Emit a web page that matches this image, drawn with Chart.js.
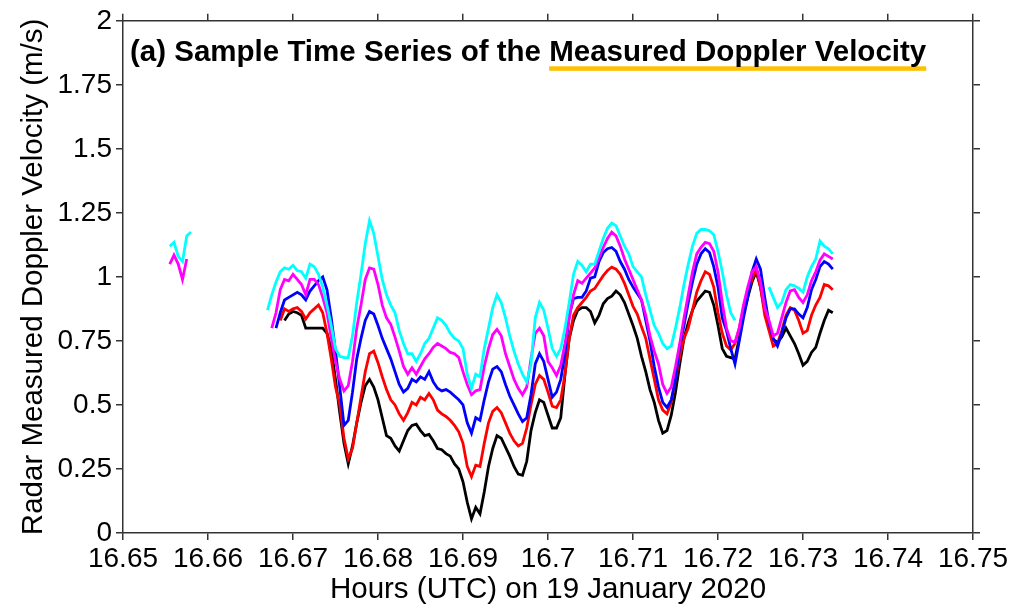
<!DOCTYPE html>
<html>
<head>
<meta charset="utf-8">
<script src="https://cdn.jsdelivr.net/npm/chart.js@4.4.0/dist/chart.umd.min.js"></script>
<style>
html, body { margin: 0; padding: 0; background: #fff; }
#wrap { width: 1015px; height: 608px; }
</style>
</head>
<body>
<div id="wrap"><canvas id="myChart" width="1015" height="608"></canvas></div>
<script>
// sample times (hours UTC) of the main record
const timeVals = [
    16.667, 16.6675, 16.668, 16.6685, 16.669, 16.6695, 16.67, 16.6705, 16.671, 16.6715,
    16.672, 16.6725, 16.673, 16.6735, 16.674, 16.6745, 16.675, 16.6755, 16.676, 16.6765,
    16.677, 16.6775, 16.678, 16.6785, 16.679, 16.6795, 16.68, 16.6805, 16.681, 16.6815,
    16.682, 16.6825, 16.683, 16.6835, 16.684, 16.6845, 16.685, 16.6855, 16.686, 16.6865,
    16.687, 16.6875, 16.688, 16.6885, 16.689, 16.6895, 16.69, 16.6905, 16.691, 16.6915,
    16.692, 16.6925, 16.693, 16.6935, 16.694, 16.6945, 16.695, 16.6955, 16.696, 16.6965,
    16.697, 16.6975, 16.698, 16.6985, 16.699, 16.6995, 16.7, 16.7005, 16.701, 16.7015,
    16.702, 16.7025, 16.703, 16.7035, 16.704, 16.7045, 16.705, 16.7055, 16.706, 16.7065,
    16.707, 16.7075, 16.708, 16.7085, 16.709, 16.7095, 16.71, 16.7105, 16.711, 16.7115,
    16.712, 16.7125, 16.713, 16.7135, 16.714, 16.7145, 16.715, 16.7155, 16.716, 16.7165,
    16.717, 16.7175, 16.718, 16.7185, 16.719, 16.7195, 16.72, 16.7205, 16.721, 16.7215,
    16.722, 16.7225, 16.723, 16.7235, 16.724, 16.7245, 16.725, 16.7255, 16.726, 16.7265,
    16.727, 16.7275, 16.728, 16.7285, 16.729, 16.7295, 16.73, 16.7305, 16.731, 16.7315,
    16.732, 16.7325, 16.733, 16.7335
];

const cyanVals = [
    0.87, 0.93, 0.98, 1.02, 1.035, 1.03, 1.045, 1.025, 1.02, 0.995,
    1.05, 1.04, 1.01, 0.96, 0.89, 0.81, 0.72, 0.69, 0.685, 0.685,
    0.77, 0.90, 1.01, 1.13, 1.22, 1.17, 1.08, 0.99, 0.93, 0.89,
    0.86, 0.79, 0.74, 0.70, 0.70, 0.67, 0.70, 0.74, 0.76, 0.80,
    0.84, 0.83, 0.81, 0.78, 0.76, 0.75, 0.72, 0.62, 0.565, 0.62,
    0.61, 0.72, 0.80, 0.88, 0.93, 0.90, 0.84, 0.77, 0.71, 0.66,
    0.62, 0.59, 0.66, 0.84, 0.90, 0.87, 0.80, 0.72, 0.69, 0.72,
    0.80, 0.90, 1.01, 1.06, 1.045, 1.02, 1.05, 1.05, 1.10, 1.15,
    1.19, 1.21, 1.20, 1.16, 1.12, 1.09, 1.04, 1.02, 1.00, 0.93,
    0.87, 0.81, 0.78, 0.74, 0.72, 0.73, 0.80, 0.88, 0.97, 1.05,
    1.12, 1.17, 1.185, 1.185, 1.18, 1.165, 1.10, 1.02, 0.93, 0.86,
    0.83, null, null, null, null, null, null, null, 0.96, 0.92,
    0.88, 0.90, 0.95, 0.97, 0.965, 0.955, 0.94, 1.00, 1.04, 1.07,
    1.14, 1.12, 1.11, 1.09
];

const magentaVals = [
    null, 0.80, 0.86, 0.95, 0.99, 0.985, 1.01, 0.99, 0.97, 0.93,
    0.99, 0.99, 0.97, 0.92, 0.86, 0.76, 0.67, 0.60, 0.555, 0.575,
    0.67, 0.80, 0.89, 0.99, 1.035, 1.03, 0.97, 0.89, 0.84, 0.815,
    0.765, 0.71, 0.65, 0.62, 0.645, 0.62, 0.65, 0.68, 0.70, 0.725,
    0.74, 0.73, 0.72, 0.705, 0.70, 0.685, 0.63, 0.58, 0.54, 0.555,
    0.56, 0.65, 0.72, 0.775, 0.795, 0.77, 0.70, 0.65, 0.60, 0.565,
    0.54, 0.57, 0.68, 0.78, 0.80, 0.77, 0.67, 0.645, 0.615, 0.655,
    0.74, 0.84, 0.93, 0.985, 0.975, 0.995, 1.015, 1.035, 1.075, 1.115,
    1.15, 1.175, 1.16, 1.12, 1.07, 1.03, 0.99, 0.95, 0.91, 0.85,
    0.77, 0.71, 0.66, 0.58, 0.545, 0.57, 0.65, 0.74, 0.84, 0.93,
    1.02, 1.09, 1.115, 1.135, 1.13, 1.10, 1.02, 0.90, 0.80, 0.75,
    0.745, 0.80, 0.89, 0.96, 1.02, 1.04, 0.98, 0.88, 0.83, 0.77,
    0.78, 0.84, 0.90, 0.945, 0.95, 0.92, 0.90, 0.93, 0.985, 1.02,
    1.065, 1.09, 1.08, 1.07
];

const blueVals = [
    null, null, 0.80, 0.86, 0.91, 0.92, 0.93, 0.94, 0.93, 0.91,
    0.945, 0.965, 0.985, 1.00, 0.95, 0.84, 0.71, 0.57, 0.42, 0.44,
    0.55, 0.68, 0.76, 0.83, 0.865, 0.855, 0.81, 0.76, 0.72, 0.68,
    0.63, 0.58, 0.55, 0.565, 0.60, 0.59, 0.61, 0.60, 0.63, 0.59,
    0.565, 0.555, 0.56, 0.55, 0.535, 0.52, 0.50, 0.43, 0.39, 0.45,
    0.44, 0.52, 0.59, 0.64, 0.65, 0.63, 0.58, 0.535, 0.50, 0.465,
    0.435, 0.45, 0.54, 0.66, 0.70, 0.67, 0.60, 0.53, 0.55, 0.60,
    0.70, 0.85, 0.915, 0.92, 0.92, 0.945, 0.995, 1.00, 1.06, 1.095,
    1.11, 1.115, 1.10, 1.06, 1.03, 0.99, 0.96, 0.935, 0.91, 0.83,
    0.75, 0.65, 0.57, 0.51, 0.49, 0.52, 0.60, 0.73, 0.81, 0.90,
    0.98, 1.05, 1.09, 1.11, 1.095, 1.04, 0.96, 0.84, 0.79, 0.72,
    0.66, 0.75, 0.84, 0.92, 1.02, 1.07, 1.03, 0.92, 0.82, 0.76,
    0.73, 0.78, 0.84, 0.875, 0.875, 0.855, 0.84, 0.88, 0.95, 0.99,
    1.04, 1.06, 1.05, 1.03
];

const redVals = [
    null, null, null, 0.83, 0.875, 0.865, 0.875, 0.88, 0.865, 0.835,
    0.86, 0.875, 0.89, 0.86, 0.78, 0.68, 0.57, 0.50, 0.37, 0.29,
    0.33, 0.43, 0.53, 0.63, 0.70, 0.71, 0.665, 0.61, 0.56, 0.52,
    0.50, 0.465, 0.44, 0.47, 0.51, 0.50, 0.53, 0.52, 0.545, 0.52,
    0.48, 0.465, 0.455, 0.44, 0.42, 0.395, 0.35, 0.26, 0.22, 0.265,
    0.26, 0.35, 0.43, 0.475, 0.49, 0.47, 0.43, 0.39, 0.36, 0.34,
    0.35, 0.41, 0.50, 0.58, 0.615, 0.60, 0.55, 0.495, 0.49, 0.52,
    0.62, 0.76, 0.85, 0.88, 0.90, 0.92, 0.945, 0.955, 0.98, 1.005,
    1.025, 1.038, 1.03, 1.01, 0.975, 0.93, 0.885, 0.855, 0.805, 0.76,
    0.68, 0.60, 0.52, 0.48, 0.465, 0.51, 0.60, 0.69, 0.76, 0.80,
    0.87, 0.94, 0.985, 1.02, 1.01, 0.96, 0.86, 0.78, 0.73, 0.715,
    0.74, 0.80, 0.88, 0.94, 0.99, 1.03, 0.96, 0.85, 0.79, 0.73,
    0.74, 0.79, 0.85, 0.88, 0.87, 0.83, 0.78, 0.79, 0.85, 0.89,
    0.92, 0.97, 0.965, 0.95
];

const blackVals = [
    null, null, null, null, 0.83, 0.855, 0.865, 0.86, 0.85, 0.80,
    0.80, 0.80, 0.80, 0.80, 0.78, 0.72, 0.60, 0.47, 0.35, 0.27,
    0.34, 0.43, 0.51, 0.575, 0.60, 0.57, 0.52, 0.45, 0.38, 0.37,
    0.34, 0.32, 0.36, 0.40, 0.42, 0.425, 0.40, 0.38, 0.385, 0.36,
    0.33, 0.325, 0.31, 0.30, 0.27, 0.25, 0.20, 0.12, 0.055, 0.10,
    0.075, 0.16, 0.26, 0.33, 0.38, 0.37, 0.335, 0.30, 0.26, 0.23,
    0.225, 0.28, 0.40, 0.47, 0.52, 0.51, 0.46, 0.41, 0.41, 0.45,
    0.62, 0.76, 0.83, 0.87, 0.88, 0.88, 0.865, 0.82, 0.85, 0.895,
    0.915, 0.925, 0.945, 0.93, 0.90, 0.855, 0.81, 0.76, 0.69, 0.63,
    0.56, 0.51, 0.44, 0.39, 0.40, 0.46, 0.55, 0.66, 0.76, 0.82,
    0.87, 0.905, 0.925, 0.945, 0.94, 0.89, 0.81, 0.72, 0.69, 0.685,
    0.68, 0.76, 0.855, 0.92, 0.98, 1.02, 0.96, 0.87, 0.80, 0.755,
    0.745, 0.765, 0.80, 0.77, 0.74, 0.70, 0.655, 0.67, 0.705, 0.725,
    0.78, 0.83, 0.87, 0.86
];

// short early burst seen only in the two upper gates
const earlyTimeVals = [16.6555, 16.656, 16.6565, 16.657, 16.6575, 16.658];
const earlyCyanVals = [1.12, 1.135, 1.08, 1.06, 1.16, 1.175];
const earlyMagentaVals = [1.05, 1.085, 1.05, 0.99, 1.07, null];

const xTicks = [16.65, 16.66, 16.67, 16.68, 16.69, 16.7, 16.71, 16.72, 16.73, 16.74, 16.75];
const xTickLabels = ['16.65', '16.66', '16.67', '16.68', '16.69', '16.7', '16.71', '16.72', '16.73', '16.74', '16.75'];
const yTicks = [0, 0.25, 0.5, 0.75, 1, 1.25, 1.5, 1.75, 2];
const yTickLabels = ['0', '0.25', '0.5', '0.75', '1', '1.25', '1.5', '1.75', '2'];

const titleLead = '(a) Sample Time Series of the ';
const titleMain = 'Measured Doppler Velocity';

const FONT = "'Liberation Sans', Arial, Helvetica, sans-serif";
const AXIS = '#333';

function toPoints(times, vals) {
    return times.map((t, i) => ({ x: t, y: vals[i] }));
}

function withEarly(earlyVals, vals) {
    // null point keeps the early burst separate from the main record
    return toPoints(earlyTimeVals, earlyVals)
        .concat([{ x: 16.662, y: null }])
        .concat(toPoints(timeVals, vals));
}

function fixTicks(vals) {
    return function (scale) {
        scale.ticks = vals.map(v => ({ value: v }));
    };
}

const panelTitle = {
    id: 'panelTitle',
    afterDraw(chart) {
        const ctx = chart.ctx;
        const a = chart.chartArea;
        ctx.save();
        ctx.font = 'bold 29.5px ' + FONT;
        ctx.textBaseline = 'alphabetic';
        ctx.textAlign = 'left';
        const x0 = a.left + 7;
        const y0 = a.top + 40;
        const w1 = ctx.measureText(titleLead).width;
        const w2 = ctx.measureText(titleMain).width;
        ctx.fillStyle = '#FFC000';
        ctx.fillRect(x0 + w1, y0 + 5.5, w2, 4.5);
        ctx.fillStyle = '#000';
        ctx.fillText(titleLead + titleMain, x0, y0);
        ctx.restore();
    }
};

const lineBase = {
    fill: false,
    pointRadius: 0,
    borderWidth: 2.8,
    tension: 0,
    spanGaps: false,
};

const edgeGrid = {
    display: true,
    drawOnChartArea: false,
    drawTicks: true,
    tickLength: 7,
    color: AXIS,
    lineWidth: 1.5,
};

var mychart = new Chart('myChart', {
    type: 'line',
    data: {
        datasets: [
            Object.assign({ label: 'cyan', borderColor: '#00FFFF', data: withEarly(earlyCyanVals, cyanVals) }, lineBase),
            Object.assign({ label: 'magenta', borderColor: '#FF00FF', data: withEarly(earlyMagentaVals, magentaVals) }, lineBase),
            Object.assign({ label: 'blue', borderColor: '#0000FF', data: toPoints(timeVals, blueVals) }, lineBase),
            Object.assign({ label: 'red', borderColor: '#FF0000', data: toPoints(timeVals, redVals) }, lineBase),
            Object.assign({ label: 'black', borderColor: '#000000', data: toPoints(timeVals, blackVals) }, lineBase),
        ]
    },
    options: {
        responsive: false,
        animation: false,
        layout: { padding: 0 },
        plugins: {
            legend: { display: false },
            tooltip: { enabled: false },
        },
        scales: {
            x: {
                type: 'linear',
                position: 'bottom',
                min: 16.65,
                max: 16.75,
                afterBuildTicks: fixTicks(xTicks),
                afterFit: s => { s.height = 75; },
                border: { display: true, color: AXIS, width: 1.5 },
                grid: edgeGrid,
                ticks: {
                    color: '#000',
                    font: { family: FONT, size: 28 },
                    padding: 2,
                    maxRotation: 0,
                    autoSkip: false,
                    callback: (v, i) => xTickLabels[i],
                },
                title: {
                    display: true,
                    text: 'Hours (UTC) on 19 January 2020',
                    color: '#000',
                    font: { family: FONT, size: 29.5 },
                    padding: { top: 0, bottom: 0 },
                },
            },
            x2: {
                type: 'linear',
                position: 'top',
                min: 16.65,
                max: 16.75,
                afterBuildTicks: fixTicks(xTicks),
                afterFit: s => { s.height = 20; },
                border: { display: true, color: AXIS, width: 1.5 },
                grid: edgeGrid,
                ticks: { display: false },
            },
            y: {
                type: 'linear',
                position: 'left',
                min: 0,
                max: 2,
                afterBuildTicks: fixTicks(yTicks),
                afterFit: s => { s.width = 123; },
                border: { display: true, color: AXIS, width: 1.5 },
                grid: edgeGrid,
                ticks: {
                    color: '#000',
                    font: { family: FONT, size: 28 },
                    padding: 4,
                    callback: (v, i) => yTickLabels[i],
                },
                title: {
                    display: true,
                    text: 'Radar Measured Doppler Velocity (m/s)',
                    color: '#000',
                    font: { family: FONT, size: 29.5 },
                    padding: { top: 16, bottom: 0 },
                },
            },
            y2: {
                type: 'linear',
                position: 'right',
                min: 0,
                max: 2,
                afterBuildTicks: fixTicks(yTicks),
                afterFit: s => { s.width = 42; },
                border: { display: true, color: AXIS, width: 1.5 },
                grid: edgeGrid,
                ticks: { display: false },
            },
        },
    },
    plugins: [panelTitle]
});
</script>
</body>
</html>
